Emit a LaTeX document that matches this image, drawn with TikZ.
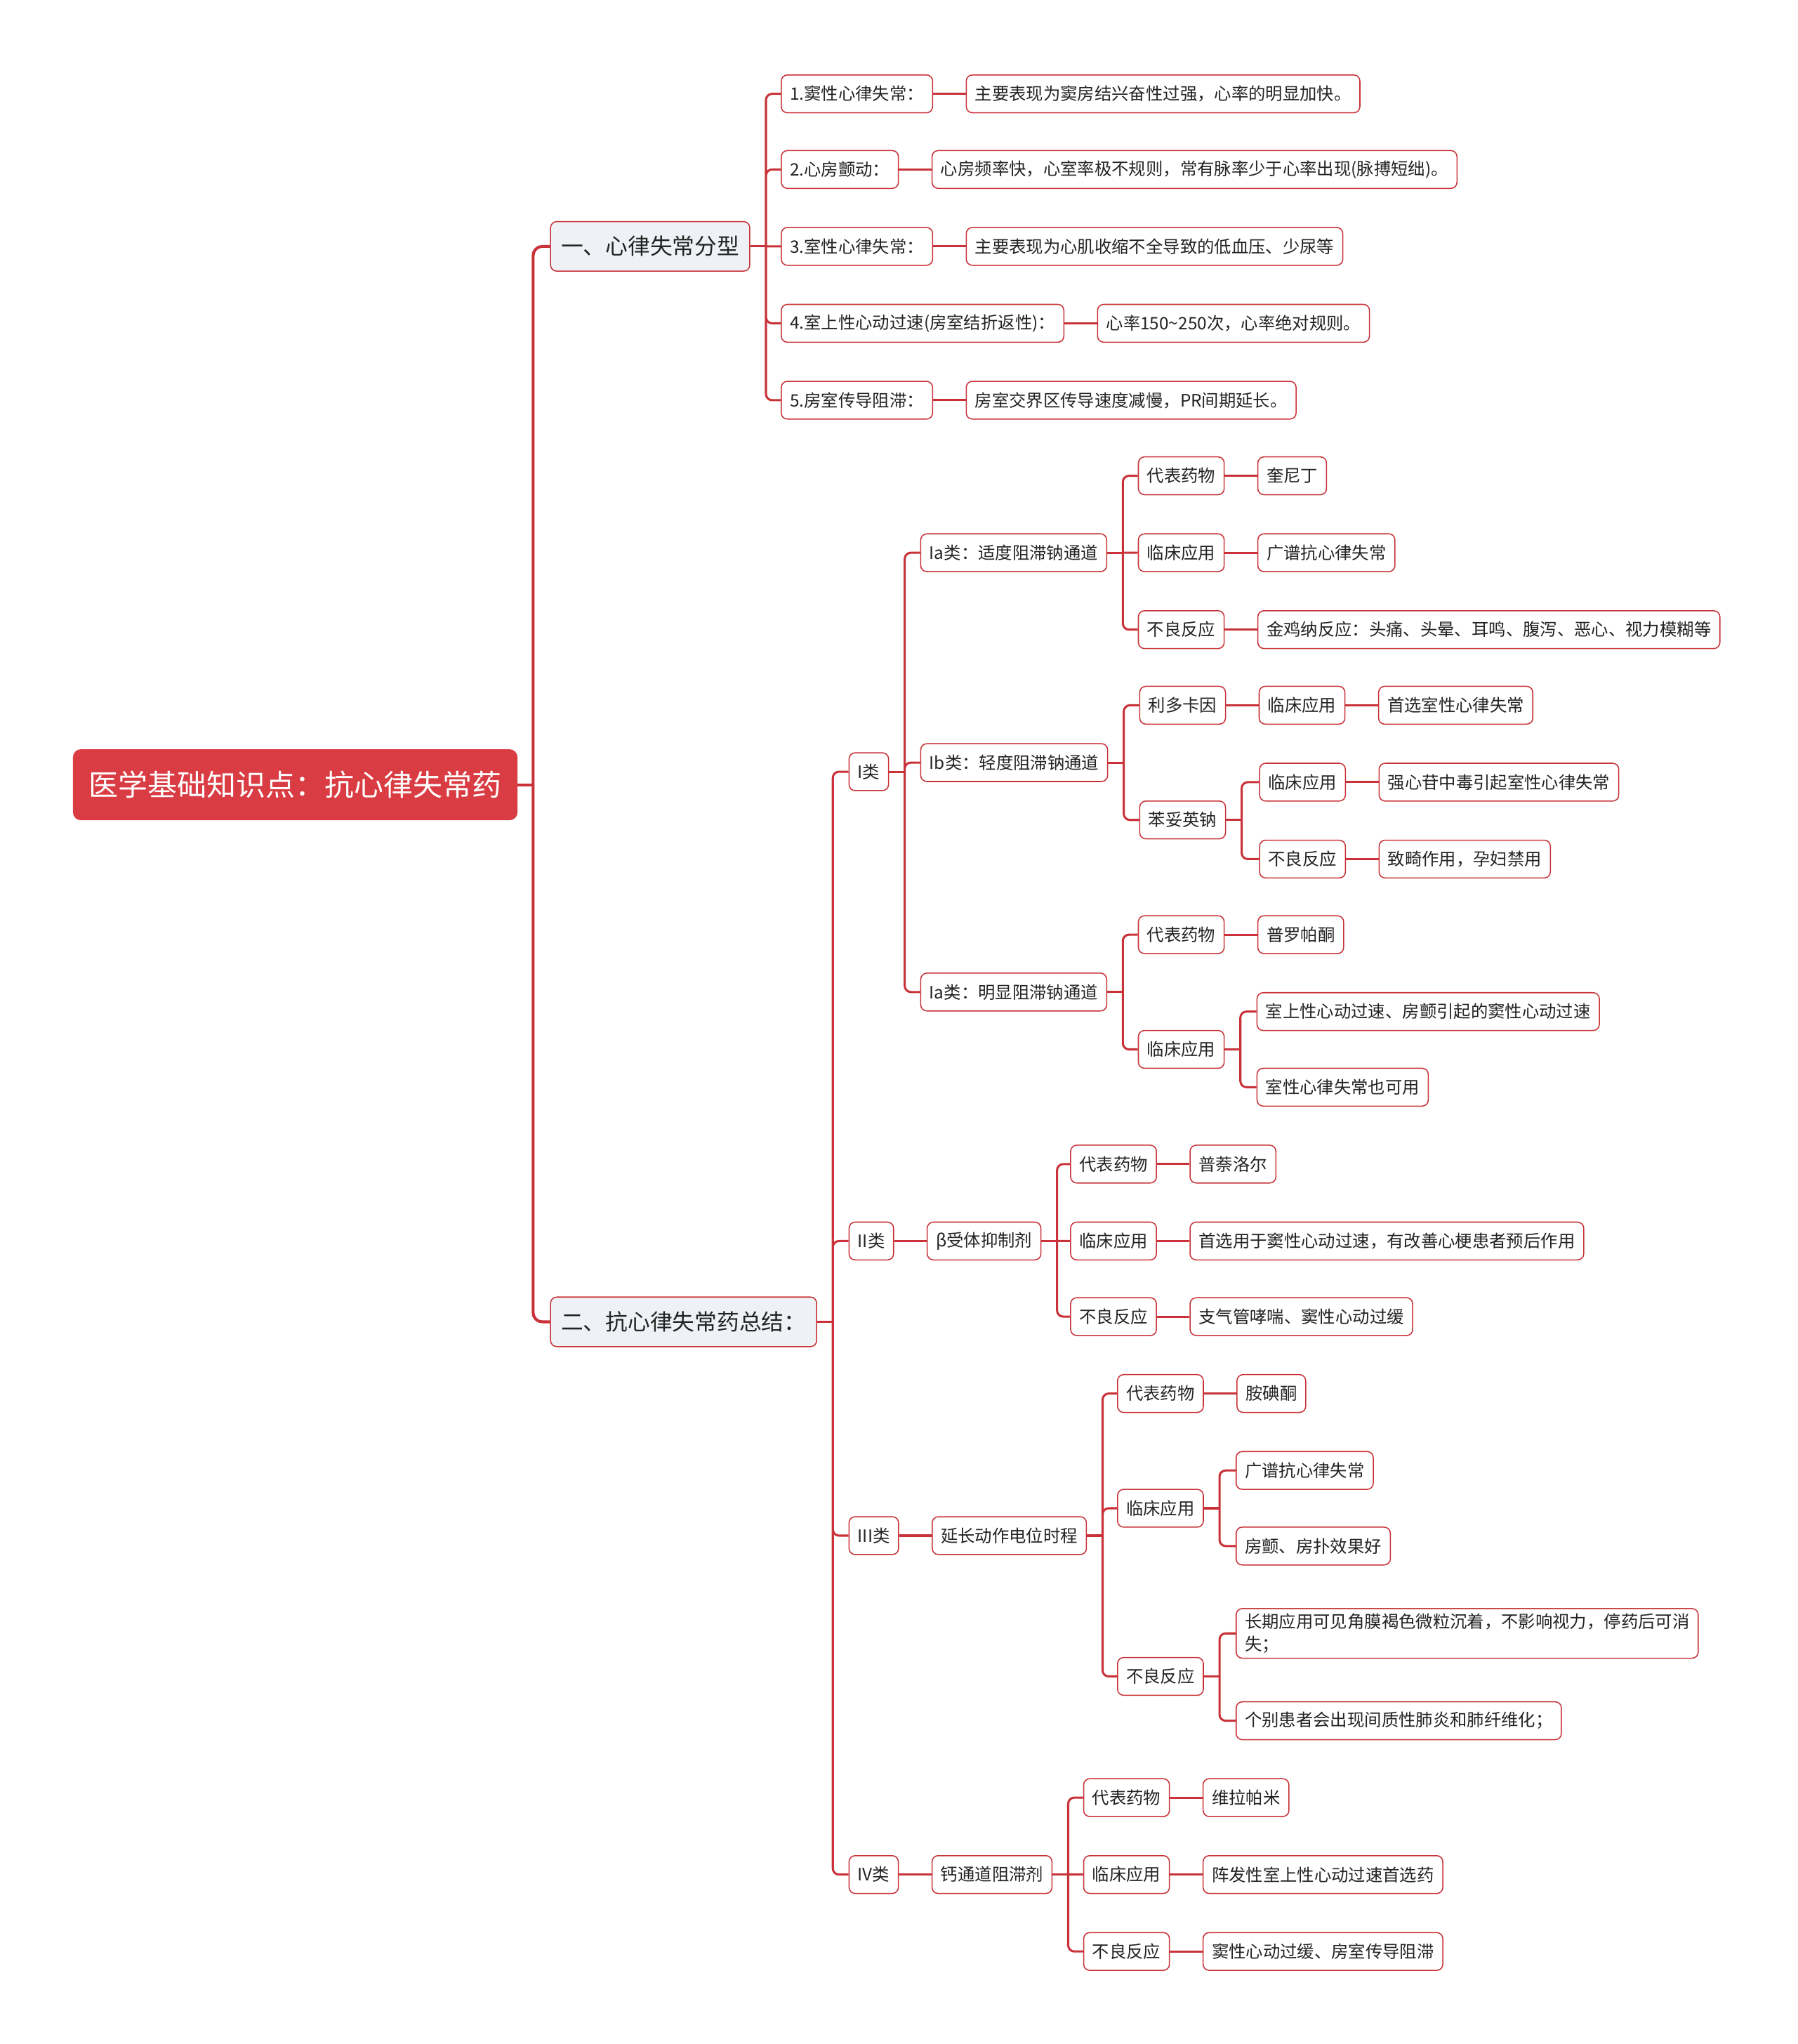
\documentclass[tikz,border=0pt]{standalone}
\usepackage{fontspec}
\setmainfont{Noto Sans CJK SC}
\usepackage{xcolor}
\usepackage{tikz}
\usetikzlibrary{positioning}
\definecolor{mapred}{RGB}{200, 50, 56}
\definecolor{rootred}{RGB}{218, 60, 67}
\definecolor{topicgray}{RGB}{238, 241, 245}
\definecolor{inkgray}{RGB}{35, 35, 35}

\begin{document}
\begin{tikzpicture}[x=0.3mm, y=-0.3mm,
  rootbox/.style={fill=rootred, draw=rootred, rounded corners=5pt, text=white,
                  minimum height=16.2mm, inner xsep=3.6mm, anchor=west,
                  font=\fontsize{19.3pt}{23pt}\selectfont},
  topicbox/.style={fill=topicgray, draw=mapred, line width=0.7pt, rounded corners=4pt,
                   minimum height=11.4mm, inner xsep=2.4mm, anchor=west, text=inkgray,
                   font=\fontsize{14.6pt}{18pt}\selectfont},
  entrybox/.style={fill=white, draw=mapred, line width=0.7pt, rounded corners=4pt,
                   minimum height=8.7mm, inner xsep=2mm, anchor=west, text=inkgray,
                   align=left, font=\fontsize{11.2pt}{14.5pt}\selectfont},
  link/.style={draw=mapred, line width=1.4pt, rounded corners=4pt},
  mainlink/.style={link, line width=1.9pt, rounded corners=6pt},
  node distance=7.5mm
]
  \useasboundingbox (0,0) rectangle (1379,1568);

  % root and the two topics
  \node[rootbox] (root) at (56,602) {医学基础知识点：抗心律失常药};
  \node[topicbox] (types) at (422,189) {一、心律失常分型};
  \node[topicbox] (drugs) at (422,1014) {二、抗心律失常药总结：};

  % types of arrhythmia
  \node[entrybox] (t1) at (599,72) {1.窦性心律失常：};
  \node[entrybox, right=of t1] (t1d) {主要表现为窦房结兴奋性过强，心率的明显加快。};
  \node[entrybox] (t2) at (599,130) {2.心房颤动：};
  \node[entrybox, right=of t2] (t2d) {心房频率快，心室率极不规则，常有脉率少于心率出现(脉搏短绌)。};
  \node[entrybox] (t3) at (599,189) {3.室性心律失常：};
  \node[entrybox, right=of t3] (t3d) {主要表现为心肌收缩不全导致的低血压、少尿等};
  \node[entrybox] (t4) at (599,248) {4.室上性心动过速(房室结折返性)：};
  \node[entrybox, right=of t4] (t4d) {心率150\textasciitilde250次，心率绝对规则。};
  \node[entrybox] (t5) at (599,307) {5.房室传导阻滞：};
  \node[entrybox, right=of t5] (t5d) {房室交界区传导速度减慢，PR间期延长。};

  % drug classes
  \node[entrybox] (c1) at (651,592) {I类};
  \node[entrybox] (c2) at (651,952) {II类};
  \node[entrybox] (c3) at (651,1178) {III类};
  \node[entrybox] (c4) at (651,1438) {IV类};

  % class I
  \node[entrybox] (ia) at (706,424) {Ia类：适度阻滞钠通道};
  \node[entrybox] (ib) at (706,585) {Ib类：轻度阻滞钠通道};
  \node[entrybox] (ic) at (706,761) {Ia类：明显阻滞钠通道};

  \node[entrybox] (ia1) at (873,365) {代表药物};
  \node[entrybox, right=of ia1] (ia1d) {奎尼丁};
  \node[entrybox] (ia2) at (873,424) {临床应用};
  \node[entrybox, right=of ia2] (ia2d) {广谱抗心律失常};
  \node[entrybox] (ia3) at (873,483) {不良反应};
  \node[entrybox, right=of ia3] (ia3d) {金鸡纳反应：头痛、头晕、耳鸣、腹泻、恶心、视力模糊等};

  \node[entrybox] (ib1) at (874,541) {利多卡因};
  \node[entrybox, right=of ib1] (ib1u) {临床应用};
  \node[entrybox, right=of ib1u] (ib1ud) {首选室性心律失常};
  \node[entrybox] (ib2) at (874,629) {苯妥英钠};
  \node[entrybox] (ib2u) at (966,600) {临床应用};
  \node[entrybox, right=of ib2u] (ib2ud) {强心苷中毒引起室性心律失常};
  \node[entrybox] (ib2a) at (966,659) {不良反应};
  \node[entrybox, right=of ib2a] (ib2ad) {致畸作用，孕妇禁用};

  \node[entrybox] (ic1) at (873,717) {代表药物};
  \node[entrybox, right=of ic1] (ic1d) {普罗帕酮};
  \node[entrybox] (ic2) at (873,805) {临床应用};
  \node[entrybox] (ic2a) at (964,776) {室上性心动过速、房颤引起的窦性心动过速};
  \node[entrybox] (ic2b) at (964,834) {室性心律失常也可用};

  % class II
  \node[entrybox, right=of c2] (beta) {β受体抑制剂};
  \node[entrybox] (b1) at (821,893) {代表药物};
  \node[entrybox, right=of b1] (b1d) {普萘洛尔};
  \node[entrybox] (b2) at (821,952) {临床应用};
  \node[entrybox, right=of b2] (b2d) {首选用于窦性心动过速，有改善心梗患者预后作用};
  \node[entrybox] (b3) at (821,1010) {不良反应};
  \node[entrybox, right=of b3] (b3d) {支气管哮喘、窦性心动过缓};

  % class III
  \node[entrybox, right=of c3] (prolong) {延长动作电位时程};
  \node[entrybox] (p1) at (857,1069) {代表药物};
  \node[entrybox, right=of p1] (p1d) {胺碘酮};
  \node[entrybox] (p2) at (857,1157) {临床应用};
  \node[entrybox] (p2a) at (948,1128) {广谱抗心律失常};
  \node[entrybox] (p2b) at (948,1186) {房颤、房扑效果好};
  \node[entrybox] (p3) at (857,1286) {不良反应};
  \node[entrybox] (p3a) at (948,1253) {长期应用可见角膜褐色微粒沉着，不影响视力，停药后可消\\失；};
  \node[entrybox] (p3b) at (948,1320) {个别患者会出现间质性肺炎和肺纤维化；};

  % class IV
  \node[entrybox, right=of c4] (calcium) {钙通道阻滞剂};
  \node[entrybox] (k1) at (831,1379) {代表药物};
  \node[entrybox, right=of k1] (k1d) {维拉帕米};
  \node[entrybox] (k2) at (831,1438) {临床应用};
  \node[entrybox, right=of k2] (k2d) {阵发性室上性心动过速首选药};
  \node[entrybox] (k3) at (831,1497) {不良反应};
  \node[entrybox, right=of k3] (k3d) {窦性心动过缓、房室传导阻滞};

  % spines
  \draw[mainlink] (root.east) -- ++(12,0) coordinate (root-s);
  \draw[mainlink] (root-s) |- (types.west) (root-s) |- (drugs.west);

  \draw[link] (types.east) -- ++(12,0) coordinate (types-s);
  \draw[link] (types-s) |- (t1.west) (types-s) |- (t2.west) (types-s) -- (t3.west)
              (types-s) |- (t4.west) (types-s) |- (t5.west);
  \draw[link] (t1) -- (t1d);
  \draw[link] (t2) -- (t2d);
  \draw[link] (t3) -- (t3d);
  \draw[link] (t4) -- (t4d);
  \draw[link] (t5) -- (t5d);

  \draw[link] (drugs.east) -- ++(12,0) coordinate (drugs-s);
  \draw[link] (drugs-s) |- (c1.west) (drugs-s) |- (c2.west)
              (drugs-s) |- (c3.west) (drugs-s) |- (c4.west);

  \draw[link] (c1.east) -- ++(12,0) coordinate (c1-s);
  \draw[link] (c1-s) |- (ia.west) (c1-s) |- (ib.west) (c1-s) |- (ic.west);

  \draw[link] (ia.east) -- ++(12,0) coordinate (ia-s);
  \draw[link] (ia-s) |- (ia1.west) (ia-s) -- (ia2.west) (ia-s) |- (ia3.west);
  \draw[link] (ia1) -- (ia1d);
  \draw[link] (ia2) -- (ia2d);
  \draw[link] (ia3) -- (ia3d);

  \draw[link] (ib.east) -- ++(12,0) coordinate (ib-s);
  \draw[link] (ib-s) |- (ib1.west) (ib-s) |- (ib2.west);
  \draw[link] (ib1) -- (ib1u);
  \draw[link] (ib1u) -- (ib1ud);
  \draw[link] (ib2.east) -- ++(12,0) coordinate (ib2-s);
  \draw[link] (ib2-s) |- (ib2u.west) (ib2-s) |- (ib2a.west);
  \draw[link] (ib2u) -- (ib2ud);
  \draw[link] (ib2a) -- (ib2ad);

  \draw[link] (ic.east) -- ++(12,0) coordinate (ic-s);
  \draw[link] (ic-s) |- (ic1.west) (ic-s) |- (ic2.west);
  \draw[link] (ic1) -- (ic1d);
  \draw[link] (ic2.east) -- ++(12,0) coordinate (ic2-s);
  \draw[link] (ic2-s) |- (ic2a.west) (ic2-s) |- (ic2b.west);

  \draw[link] (c2) -- (beta);
  \draw[link] (beta.east) -- ++(12,0) coordinate (beta-s);
  \draw[link] (beta-s) |- (b1.west) (beta-s) -- (b2.west) (beta-s) |- (b3.west);
  \draw[link] (b1) -- (b1d);
  \draw[link] (b2) -- (b2d);
  \draw[link] (b3) -- (b3d);

  \draw[link] (c3) -- (prolong);
  \draw[link] (prolong.east) -- ++(12,0) coordinate (prolong-s);
  \draw[link] (prolong-s) |- (p1.west) (prolong-s) |- (p2.west) (prolong-s) |- (p3.west);
  \draw[link] (p1) -- (p1d);
  \draw[link] (p2.east) -- ++(12,0) coordinate (p2-s);
  \draw[link] (p2-s) |- (p2a.west) (p2-s) |- (p2b.west);
  \draw[link] (p3.east) -- ++(12,0) coordinate (p3-s);
  \draw[link] (p3-s) |- (p3a.west) (p3-s) |- (p3b.west);

  \draw[link] (c4) -- (calcium);
  \draw[link] (calcium.east) -- ++(12,0) coordinate (calcium-s);
  \draw[link] (calcium-s) |- (k1.west) (calcium-s) -- (k2.west) (calcium-s) |- (k3.west);
  \draw[link] (k1) -- (k1d);
  \draw[link] (k2) -- (k2d);
  \draw[link] (k3) -- (k3d);
\end{tikzpicture}
\end{document}
